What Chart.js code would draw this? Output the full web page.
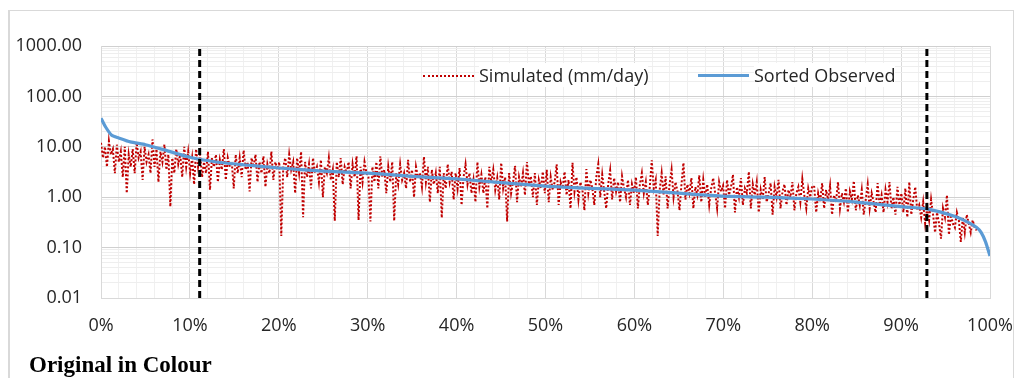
<!DOCTYPE html>
<html>
<head>
<meta charset="utf-8">
<script src="https://cdn.jsdelivr.net/npm/chart.js@4.4.1/dist/chart.umd.min.js"></script>
<style>
  html, body { margin: 0; padding: 0; background: #fff; }
  #wrap { position: relative; width: 1021px; height: 378px; overflow: hidden; }
  #frame { position: absolute; left: 8px; top: 10px; width: 1003px; height: 380px;
           border-left: 2px solid #d9d9d9; border-top: 1px solid #d9d9d9; border-right: 1px solid #d9d9d9; }
  canvas { position: absolute; left: 0; top: 0; }
  .legend { position: absolute; top: 63px; font-family: "Open Sans", sans-serif; font-size: 18px; color: #262626; background: #fff; }
  .swatch { position: absolute; top: 75px; width: 51px; height: 0; }
  #caption { position: absolute; left: 29px; top: 352px; font-family: "Liberation Serif", serif;
             font-weight: bold; font-size: 23px; color: #000; }
</style>
</head>
<body>
<div id="wrap">
  <div id="frame"></div>
  <canvas id="fdc" width="1021" height="378"></canvas>
  <div class="swatch" style="left:423px; border-top: 2px dotted #c00000;"></div>
  <div class="legend" style="left:479px;">Simulated (mm/day)</div>
  <div class="swatch" style="left:698px; top:74px; border-top: 3px solid #5b9bd5;"></div>
  <div class="legend" style="left:754px;">Sorted Observed</div>
  <div id="caption">Original in Colour</div>
</div>
<script>
// ---------------------------------------------------------
// Data (flow duration curve, log y)
// ---------------------------------------------------------

// simulated daily values, in order of exceedance (0% .. ~98.5%)
const simulated = [
  // 0-10%
  12, 6, 10, 4, 13, 7, 9, 3, 11, 5, 8, 2.5, 10, 1.2, 7, 4, 9, 3, 12, 6, 8, 2.2, 10, 5, 7, 3, 14, 4, 9, 2, 8, 5, 11, 3.5, 7, 0.65, 6, 3, 9, 4.5, 7, 2.5, 10, 4, 8,
  // 10-20%
  3, 6, 1.8, 9, 4, 7, 2.5, 5, 3, 8, 1.4, 6, 4, 7, 2, 5.5, 3.5, 9, 2.2, 6, 4, 5, 1.5, 7, 3, 6, 2.5, 8.5, 3.5, 5, 1.3, 6, 4, 7, 2, 5, 3, 6.5, 1.6, 4.5, 3, 8, 2.2, 5, 3.5,
  // 20-30%
  5, 0.17, 4, 6, 2.5, 7, 3.5, 5, 1.2, 6, 3, 8, 0.4, 5, 2.5, 4.5, 1.5, 6, 3, 4, 2, 5.5, 1, 4, 3, 6, 2.2, 3.5, 0.34, 5, 2.5, 6, 1.8, 4, 3, 5, 1.5, 4.5, 2.5, 6.5, 0.35, 4, 2, 5, 3,
  // 30-40%
  2.5, 0.33, 4, 2, 5, 1.5, 6.5, 2.5, 3.5, 1.2, 4, 2, 5, 0.34, 3, 1.8, 4.5, 2.2, 3, 1.5, 5.5, 2, 3.5, 1, 4, 2.5, 3, 1.6, 6.3, 2, 4, 0.8, 3.5, 1.8, 3, 1.2, 4, 0.39, 3, 1.5, 4.5, 2, 3.2, 0.9, 3,
  // 40-50%
  1.5, 3.8, 0.7, 2.5, 4.5, 1.8, 3, 1.2, 2.2, 0.8, 5, 1.6, 2.8, 1.2, 2.5, 0.6, 4, 2, 3.5, 1.4, 2.4, 0.9, 4.8, 1.5, 2.5, 0.33, 3, 1.2, 2, 4.2, 0.8, 2.5, 1.6, 3, 1.1, 5, 1.8, 2.6, 1, 3, 0.7, 2.2, 1.5, 3.2, 1.2,
  // 50-60%
  3.5, 0.8, 2.5, 1.4, 2, 4.5, 0.7, 2, 1.5, 3.2, 1.1, 2.2, 0.6, 4.8, 1.3, 2.5, 0.9, 2, 1.4, 0.55, 3.6, 1.2, 2.2, 1.5, 0.7, 2.5, 4.5, 1, 2.8, 1.3, 0.6, 1.8, 3.4, 0.9, 2.4, 1.3, 2, 0.8, 2.6, 1.5, 1, 2.2, 0.7, 1.8, 1.2,
  // 60-70%
  2.5, 0.6, 1.8, 3, 1.2, 2, 0.7, 1.6, 5.4, 1.5, 2.2, 0.17, 1.4, 3, 1.1, 2.6, 0.6, 1.8, 3.5, 1, 2, 1.3, 0.55, 1.8, 4.8, 0.9, 1.8, 1.2, 2.4, 0.6, 1.6, 1.1, 2.7, 0.8, 2.2, 1, 1.8, 0.7, 1.5, 2.4, 1.2, 0.6, 2, 1.3, 1.7,
  // 70-80%
  0.6, 2.2, 1.1, 1.6, 2.8, 0.5, 1.6, 1, 2.4, 0.7, 1.5, 1.2, 3.2, 0.6, 1.8, 1.1, 2, 0.5, 1.4, 0.9, 2.5, 0.8, 1.2, 1.9, 0.45, 1.6, 1, 2.2, 0.6, 1.3, 1.8, 0.7, 1.4, 1, 2, 0.55, 1.2, 1.6, 0.8, 2.3, 1.1, 0.6, 1.5, 1, 1.7,
  // 80-90%
  1.6, 0.5, 1.2, 0.8, 1.9, 0.6, 1.4, 0.9, 1.7, 0.45, 1.1, 0.8, 2, 0.6, 1.2, 0.8, 1.5, 0.5, 1.3, 0.9, 2.1, 0.55, 1.1, 0.7, 1.4, 0.45, 0.9, 1.8, 0.6, 1.2, 0.8, 0.5, 1.9, 0.7, 1.1, 0.5, 1.4, 0.8, 2, 0.6, 1, 0.45, 1.6, 0.7, 1.2,
  // 90-98.5%
  0.5, 1.5, 0.4, 2, 0.45, 0.9, 1.6, 0.55, 0.7, 0.4, 0.8, 0.3, 0.6, 0.35, 0.9, 0.45, 0.2, 0.5, 0.3, 0.15, 0.6, 0.4, 1.1, 0.18, 0.45, 0.3, 0.25, 0.5, 0.35, 0.13, 0.4, 0.2, 0.45, 0.3, 0.2, 0.35, 0.25, 0.22
];
const simulatedEnd = 0.985;   // last simulated point sits at ~98.5%

// sorted observed: exceedance fraction / value
const observedPct = [0, 0.005, 0.012, 0.02, 0.033, 0.05, 0.07, 0.1, 0.13, 0.16, 0.2, 0.25, 0.3, 0.35, 0.4, 0.45,
                     0.5, 0.55, 0.6, 0.65, 0.7, 0.75, 0.8, 0.85, 0.9, 0.93, 0.96, 0.975, 0.985, 0.99, 0.995, 1];
const observedVal = [37, 25, 17, 15, 12.5, 11, 8.8, 6.2, 5, 4.4, 3.8, 3.3, 3.0, 2.6, 2.3, 1.95,
                     1.66, 1.5, 1.38, 1.2, 1.05, 1.0, 0.92, 0.8, 0.65, 0.58, 0.42, 0.32, 0.25, 0.2, 0.13, 0.068];

// the two dashed markers
const markerPct = [0.111, 0.929];

const yMin = 0.01, yMax = 1000;

// ---------------------------------------------------------
// build datasets
// ---------------------------------------------------------
const simPoints = simulated.map((v, i) => ({ x: i / (simulated.length - 1) * simulatedEnd, y: v }));
const obsPoints = observedPct.map((p, i) => ({ x: p, y: observedVal[i] }));

const markerSets = markerPct.map(p => ({
    label: 'marker',
    data: [{ x: p, y: yMin }, { x: p, y: yMax }],
    borderColor: '#000',
    borderWidth: 3,
    borderDash: [7, 4],
    pointRadius: 0,
    order: 0
}));

const isPow10 = v => Math.abs(Math.log10(v) - Math.round(Math.log10(v))) < 1e-6;
const isTen = v => Math.round(v * 100) % 10 === 0;

new Chart(document.getElementById('fdc'), {
    type: 'line',
    data: {
        datasets: [
            {
                label: 'Simulated (mm/day)',
                data: simPoints,
                borderColor: '#c00000',
                borderWidth: 2,
                borderDash: [2, 2],
                pointRadius: 0,
                tension: 0,
                order: 2
            },
            {
                label: 'Sorted Observed',
                data: obsPoints,
                borderColor: '#5b9bd5',
                borderWidth: 3.2,
                pointRadius: 0,
                tension: 0.2,
                order: 1
            },
            ...markerSets
        ]
    },
    options: {
        responsive: false,
        animation: false,
        layout: { padding: { left: 0, right: 31, top: 46, bottom: 0 } },
        plugins: { legend: { display: false }, tooltip: { enabled: false } },
        scales: {
            x: {
                type: 'linear',
                min: 0, max: 1,
                afterFit: s => { s.height = 80; s.paddingLeft = 0; s.paddingRight = 0; },
                afterBuildTicks: s => {
                    s.ticks = [];
                    for (let i = 0; i <= 50; i++) s.ticks.push({ value: i / 50 });
                },
                ticks: {
                    autoSkip: false,
                    maxRotation: 0,
                    padding: 17,
                    color: '#262626',
                    font: { family: 'Open Sans', size: 18 },
                    callback: v => isTen(v) ? Math.round(v * 100) + '%' : ''
                },
                grid: {
                    drawTicks: false,
                    color: c => isTen(c.tick.value) ? '#d9d9d9' : '#f0f0f0'
                },
                border: { color: '#d9d9d9' }
            },
            y: {
                type: 'logarithmic',
                min: yMin, max: yMax,
                afterFit: s => { s.width = 101; s.paddingTop = 0; s.paddingBottom = 0; },
                afterBuildTicks: s => {
                    s.ticks = [];
                    for (let e = -2; e <= 3; e++) {
                        for (let m = 1; m <= 9; m++) {
                            const v = m * Math.pow(10, e);
                            if (v <= yMax + 1e-9) s.ticks.push({ value: v });
                        }
                    }
                },
                ticks: {
                    autoSkip: false,
                    padding: 19,
                    color: '#262626',
                    font: { family: 'Open Sans', size: 18 },
                    callback: v => isPow10(v) ? v.toFixed(2) : ''
                },
                grid: {
                    drawTicks: false,
                    color: c => isPow10(c.tick.value) ? '#d0d0d0' : '#eeeeee'
                },
                border: { color: '#d9d9d9' }
            }
        }
    }
});
</script>
</body>
</html>
